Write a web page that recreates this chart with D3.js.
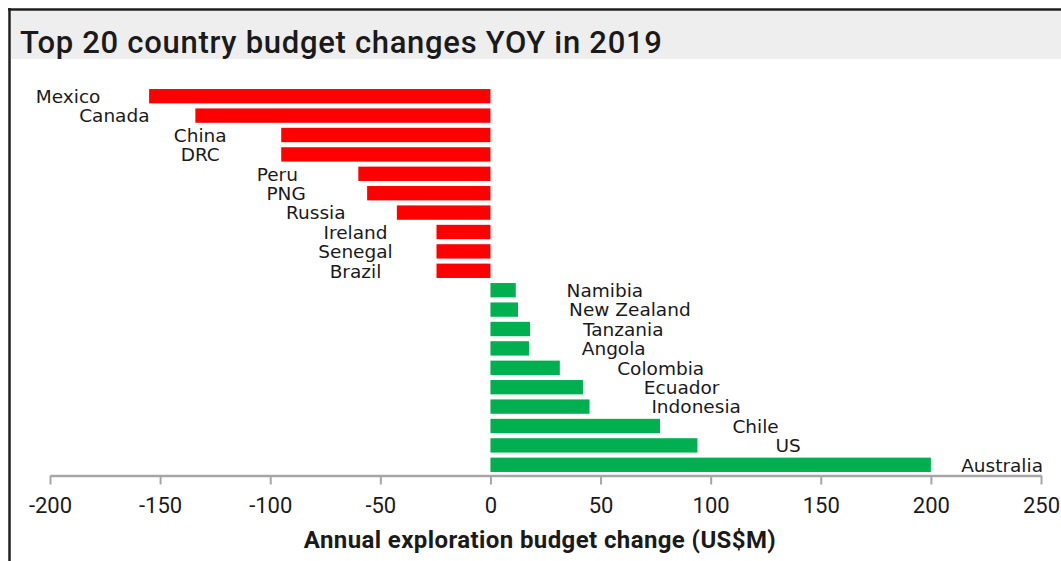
<!DOCTYPE html>
<html>
<head>
<meta charset="utf-8">
<script src="https://cdn.jsdelivr.net/npm/d3@7"></script>
<style>
  html, body { margin: 0; padding: 0; background: #ffffff; }
  svg { display: block; }
</style>
</head>
<body>
<svg id="chart" width="1061" height="561"></svg>
<script>
// Year-on-year change in exploration budgets, US$M
const countries = ["Mexico", "Canada", "China", "DRC", "Peru", "PNG", "Russia", "Ireland", "Senegal", "Brazil",
                   "Namibia", "New Zealand", "Tanzania", "Angola", "Colombia", "Ecuador", "Indonesia", "Chile", "US", "Australia"];
const budgetChange = [-155, -134, -95, -95, -60, -56, -42.5, -24.5, -24.5, -24.5,
                      11.5, 12.5, 18, 17.5, 31.5, 42, 45, 77, 94, 200];
const tickValues = [-200, -150, -100, -50, 0, 50, 100, 150, 200, 250];
const tickLabels = ["-200", "-150", "-100", "-50", "0", "50", "100", "150", "200", "250"];
const chartTitle = "Top 20 country budget changes YOY in 2019";
const axisTitle = "Annual exploration budget change (US$M)";

const W = 1061, H = 561;
const svg = d3.select("#chart");
const ink = "#1a1a1a";

// frame and title band
svg.append("rect").attr("x", 11).attr("y", 11).attr("width", W - 11).attr("height", 48).attr("fill", "#eeeeee");
svg.append("line").attr("x1", 8).attr("x2", W).attr("y1", 9.5).attr("y2", 9.5)
  .attr("stroke", "#1f1f1f").attr("stroke-width", 2.5);
svg.append("line").attr("x1", 9.5).attr("x2", 9.5).attr("y1", 8).attr("y2", H)
  .attr("stroke", "#1f1f1f").attr("stroke-width", 2.5);

svg.append("text")
  .attr("x", 20).attr("y", 53)
  .attr("font-family", "Roboto, 'Noto Sans', sans-serif")
  .attr("font-weight", 500)
  .attr("font-size", 31)
  .attr("letter-spacing", 0.7)
  .attr("fill", ink)
  .text(chartTitle);

// scales
const x = d3.scaleLinear().domain([-200, 250]).range([50, 1041]);
const y = d3.scaleBand().domain(countries).range([86.5, 474.5]).paddingInner(0.26).paddingOuter(0.13);

const data = countries.map((c, i) => ({ country: c, value: budgetChange[i] }));

// bars
svg.append("g").selectAll("rect")
  .data(data)
  .join("rect")
  .attr("x", d => x(Math.min(0, d.value)))
  .attr("y", d => y(d.country))
  .attr("width", d => Math.abs(x(d.value) - x(0)))
  .attr("height", y.bandwidth())
  .attr("fill", d => d.value < 0 ? "#ff0000" : "#00b050");

// axis
const axisY = 475.5;
const axis = svg.append("g")
  .attr("transform", `translate(0,${axisY})`)
  .call(d3.axisBottom(x)
    .tickValues(tickValues)
    .tickFormat((d, i) => tickLabels[i])
    .tickSize(9)
    .tickSizeOuter(0)
    .tickPadding(13));
axis.select(".domain").attr("stroke", "#a6a6a6").attr("stroke-width", 2.5);
axis.selectAll(".tick line").attr("stroke", "#a6a6a6").attr("stroke-width", 2);
axis.selectAll(".tick text")
  .attr("font-family", "Roboto, 'Noto Sans', sans-serif")
  .attr("font-size", 22)
  .attr("fill", ink);

svg.append("text")
  .attr("x", 540).attr("y", 548)
  .attr("text-anchor", "middle")
  .attr("font-family", "Roboto, 'Noto Sans', sans-serif")
  .attr("font-weight", 700)
  .attr("font-size", 24)
  .attr("letter-spacing", 0.4)
  .attr("fill", ink)
  .text(axisTitle);

// country labels: losses centred to the left of the bar, gains set out to the right
const labelFont = "'DejaVu Sans', sans-serif";
const labels = svg.append("g")
  .attr("font-family", labelFont)
  .attr("font-size", 18.5)
  .attr("fill", ink);

labels.selectAll("text")
  .data(data)
  .join("text")
  .attr("y", d => y(d.country) + y.bandwidth() / 2)
  .attr("dy", "0.37em")
  .text(d => d.country)
  .each(function (d) {
    const t = d3.select(this);
    const w = this.getComputedTextLength();
    if (d.value < 0) {
      t.attr("text-anchor", "middle").attr("x", x(d.value) - 81);
    } else {
      let start = x(d.value) + 47 + 0.33 * d.value;
      const maxEnd = x(250) + 2;
      if (start + w > maxEnd) start = maxEnd - w;
      t.attr("text-anchor", "start").attr("x", start);
    }
  });
</script>
</body>
</html>
